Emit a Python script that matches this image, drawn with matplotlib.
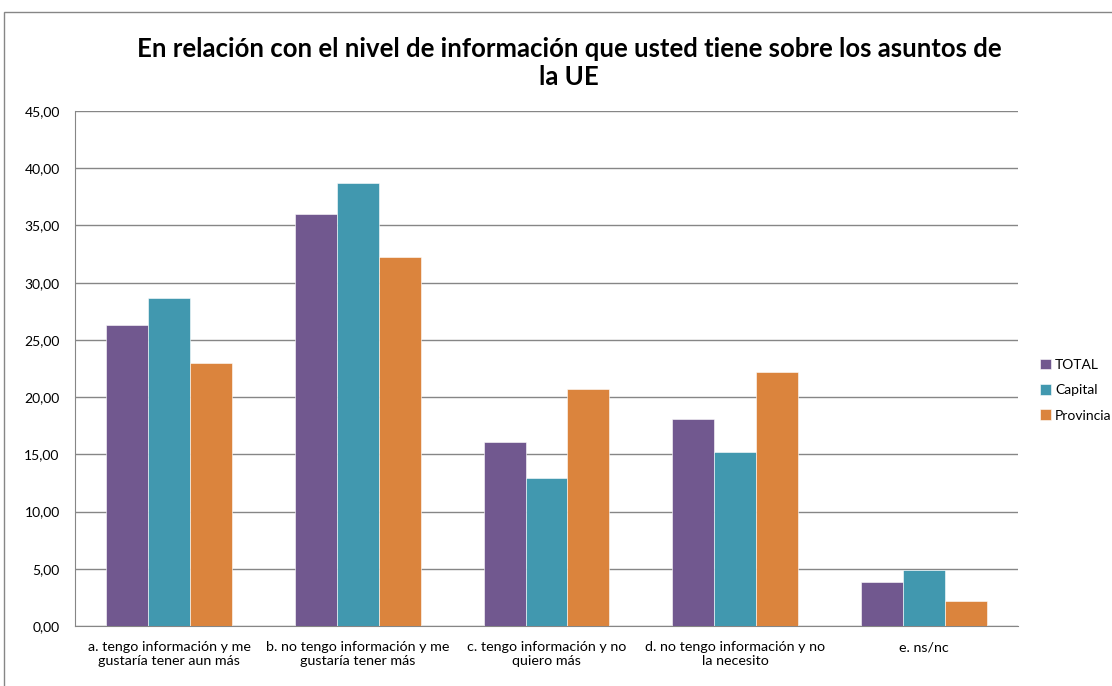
import numpy as np
import matplotlib
matplotlib.use('Agg')
import matplotlib.pyplot as plt
from matplotlib.patches import Rectangle

plt.rcParams['font.family'] = ['Lato', 'DejaVu Sans']

categories = ['a. tengo información y me\ngustaría tener aun más',
              'b. no tengo información y me\ngustaría tener más',
              'c. tengo información y no\nquiero más',
              'd. no tengo información y no\nla necesito',
              'e. ns/nc']
series_names = ['TOTAL', 'Capital', 'Provincia']
total = [26.3, 36.0, 16.05, 18.1, 3.82]
capital = [28.63, 38.7, 12.9, 15.2, 4.85]
provincia = [22.95, 32.24, 20.74, 22.2, 2.16]
colors = ['#71588F', '#4198AF', '#DB843D']

fig = plt.figure(figsize=(11.12, 6.86), dpi=100)
ax = fig.add_axes([75 / 1112, 1 - 626 / 686, (1018 - 75) / 1112, (626 - 111) / 686])

# outer chart frame
fig.patches.append(Rectangle((4 / 1112, -0.1), 1.2, 0.1 + 1 - 12 / 686,
                             transform=fig.transFigure, fill=False,
                             edgecolor='#868686', lw=1.0))

x = np.arange(len(categories))
w = 1 / 4.5
for i, (vals, name) in enumerate(zip([total, capital, provincia], series_names)):
    ax.bar(x + (i - 1) * w, vals, width=w, color=colors[i], label=name,
           edgecolor='white', linewidth=0.4, zorder=3)

ax.set_xlim(-0.5, len(categories) - 0.5)
ax.set_ylim(0, 45)
ax.set_yticks(np.arange(0, 46, 5))
ax.set_yticklabels([('%.2f' % v).replace('.', ',') for v in np.arange(0, 46, 5)])
ax.set_xticks(x)
ax.set_xticklabels(categories, fontsize=10.3)
ax.tick_params(axis='y', labelsize=10, length=0, pad=11)
ax.tick_params(axis='x', length=0, pad=11)
ax.grid(axis='y', color='#868686', lw=1, zorder=0)
for s in ['top', 'right']:
    ax.spines[s].set_visible(False)
for s in ['left', 'bottom']:
    ax.spines[s].set_color('#868686')

fig.text(0.512, 0.908, 'En relación con el nivel de información que usted tiene sobre los asuntos de\nla UE',
         ha='center', va='center', fontsize=18.5, fontweight='bold', linespacing=1.22)

ax.legend(loc='center left', bbox_to_anchor=(1.01, 0.458), frameon=False,
          fontsize=10, handlelength=0.8, handleheight=0.8, handletextpad=0.3,
          labelspacing=0.95)

fig.savefig('out.png', dpi=100)
